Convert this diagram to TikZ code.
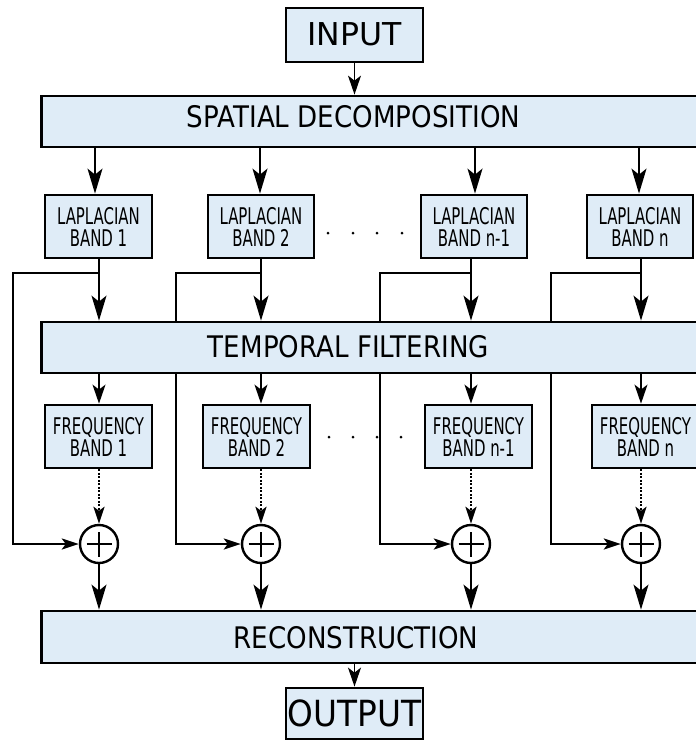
\documentclass[tikz,border=0pt]{standalone}
\usepackage{fontspec}
\setmainfont{DejaVu Sans}
\newfontfamily\smallf[FakeStretch=0.65]{DejaVu Sans}
\newfontfamily\bigf[FakeStretch=0.88]{DejaVu Sans}
\newfontfamily\outf[FakeStretch=0.91]{DejaVu Sans}
\usetikzlibrary{arrows.meta,backgrounds}
\definecolor{boxblue}{RGB}{223,236,247}
\tikzset{
  box/.style={draw, line width=2.8pt, fill=boxblue, inner sep=0pt},
  smallbox/.style={box, minimum width=107pt, minimum height=63pt, align=center,
    font=\smallf\fontsize{23}{22}\selectfont},
  bar/.style={box, minimum width=700pt, minimum height=51pt, anchor=west},
  bigtext/.style={anchor=base, inner sep=0pt, font=\bigf\fontsize{29.7}{30}\selectfont},
  sumnode/.style={circle, draw, line width=2.4pt, fill=white, minimum size=38pt, inner sep=0pt,
    path picture={\draw[line width=1.2pt] (path picture bounding box.center) ++(-12.5pt,0pt) -- ++(25pt,0pt)
      (path picture bounding box.center) ++(0pt,-12.5pt) -- ++(0pt,25pt);}},
  conn/.style={line width=1.6pt},
  bigarrow/.style={conn, -{Stealth[length=25pt,width=15pt,inset=6pt]}},
  medarrow/.style={conn, -{Stealth[length=19pt,width=13pt,inset=5pt]}},
  fbarrow/.style={line width=2.2pt, -{Stealth[length=17pt,width=11pt,inset=4pt]}},
  dotarrow/.style={line width=2.4pt, dash pattern=on 2pt off 1.5pt, -{Stealth[length=17pt,width=11pt,inset=4pt]}},
  dotmark/.style={fill=black}
}
\begin{document}
\begin{tikzpicture}[x=1pt,y=-1pt]
\useasboundingbox (0,0) rectangle (696,740);
% boxes
\node[box, minimum width=137pt, minimum height=54pt, text height=20pt, text depth=0pt,
  font=\fontsize{31.5}{32}\selectfont] (input) at (354.5,35) {INPUT};
\node[bar] (sd) at (40,121.5) {};
\node[bigtext] (sdt) at (353.5,127) {SPATIAL DECOMPOSITION};

\node[smallbox] (l1) at (98.5,226.5) {LAPLACIAN\\BAND 1};
\node[smallbox, minimum width=106pt] (l2) at (261,226.5) {LAPLACIAN\\BAND 2};
\node[smallbox, minimum width=106pt] (l3) at (474,226.5) {LAPLACIAN\\BAND n-1};
\node[smallbox, minimum width=106pt] (l4) at (640,226.5) {LAPLACIAN\\BAND n};

\node[bar] (tf) at (40,347.5) {};
\node[bigtext] (tft) at (348.5,357) {TEMPORAL FILTERING};

\node[smallbox] (f1) at (98.5,436.5) {FREQUENCY\\BAND 1};
\node[smallbox] (f2) at (256.5,436.5) {FREQUENCY\\BAND 2};
\node[smallbox] (f3) at (478.5,436.5) {FREQUENCY\\BAND n-1};
\node[smallbox] (f4) at (645.5,436.5) {FREQUENCY\\BAND n};

\node[sumnode] (c1) at (99,544) {};
\node[sumnode] (c2) at (261,544) {};
\node[sumnode] (c3) at (471,544) {};
\node[sumnode] (c4) at (641,544) {};

\node[bar, minimum height=52pt] (rec) at (40,637) {};
\node[bigtext] (rect) at (356,648) {RECONSTRUCTION};

\node[box, minimum width=137pt, minimum height=51pt, text height=25pt, text depth=0pt,
  font=\outf\fontsize{36}{36}\selectfont] (output) at (354.5,713.5) {OUTPUT};

% dots
\foreach \x in {328,353,377,402} \fill[dotmark] (\x,233) circle (1.5pt);
\foreach \x in {329,353,377,401} \fill[dotmark] (\x,437) circle (1.5pt);

% connectors
\draw[medarrow, line width=1.3pt] (input.south) -- (input.south |- sd.north);
\draw[bigarrow] ([xshift=-3.5pt]l1.north |- sd.south) -- ([xshift=-3.5pt]l1.north);
\draw[bigarrow] ([xshift=-1pt]l2.north |- sd.south) -- ([xshift=-1pt]l2.north);
\draw[bigarrow] ([xshift=1pt]l3.north |- sd.south) -- ([xshift=1pt]l3.north);
\draw[bigarrow] ([xshift=-1pt]l4.north |- sd.south) -- ([xshift=-1pt]l4.north);

\foreach \i/\fx in {1/13,2/176,3/380,4/551} {
  \coordinate (j\i) at (c\i |- 0,273);
  \coordinate (k\i) at (\fx,273);
}
\begin{scope}[on background layer]
\foreach \i in {1,2,3,4} \draw[fbarrow] (j\i) -- (k\i) |- (c\i.west);
\end{scope}

\draw[bigarrow] (c1 |- l1.south) -- (c1 |- tf.north);
\draw[bigarrow] (c2 |- l2.south) -- (c2 |- tf.north);
\draw[bigarrow] (c3 |- l3.south) -- (c3 |- tf.north);
\draw[bigarrow] (c4 |- l4.south) -- (c4 |- tf.north);

\draw[medarrow] (c1 |- tf.south) -- (c1 |- f1.north);
\draw[medarrow] (c2 |- tf.south) -- (c2 |- f2.north);
\draw[medarrow] (c3 |- tf.south) -- (c3 |- f3.north);
\draw[medarrow] (c4 |- tf.south) -- (c4 |- f4.north);

\draw[dotarrow] (c1 |- f1.south) -- (c1.north);
\draw[dotarrow] (c2 |- f2.south) -- (c2.north);
\draw[dotarrow] (c3 |- f3.south) -- (c3.north);
\draw[dotarrow] (c4 |- f4.south) -- (c4.north);

\draw[bigarrow] (c1.south) -- (c1 |- rec.north);
\draw[bigarrow] (c2.south) -- (c2 |- rec.north);
\draw[bigarrow] (c3.south) -- (c3 |- rec.north);
\draw[bigarrow] (c4.south) -- (c4 |- rec.north);

\draw[medarrow] (output.north |- rec.south) -- (output.north);
\end{tikzpicture}
\end{document}
